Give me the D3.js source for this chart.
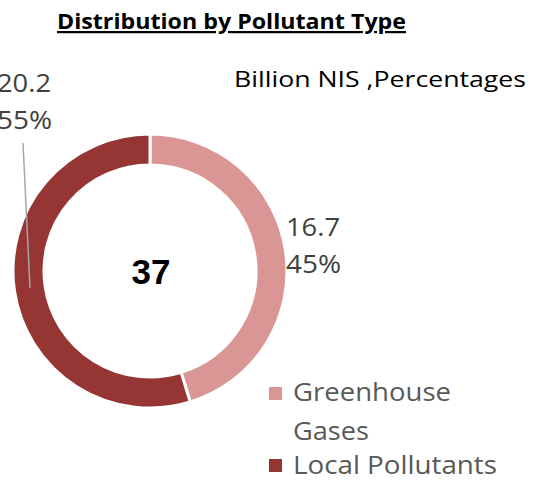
<!DOCTYPE html>
<html><head><meta charset="utf-8">
<script src="https://cdn.jsdelivr.net/npm/d3@7"></script>
<style>body{margin:0;background:#fff;}svg{display:block;}</style>
</head><body>
<svg id="c" width="548" height="483"></svg>
<script>
const categories = ["Greenhouse Gases", "Local Pollutants"];
const values = [16.7, 20.2];
const percents = ["45%", "55%"];
const colors = ["#DA9694", "#963634"];
const totalLabel = "37";
const title = "Distribution by Pollutant Type";
const subtitle = "Billion NIS ,Percentages";

const svg = d3.select("#c");
const cx = 150, cy = 271, rOuter = 137, rInner = 106;

svg.append("text").attr("x", 57).attr("y", 29)
  .attr("font-family", "'Open Sans', sans-serif").attr("font-weight", "bold")
  .attr("font-size", 22).attr("fill", "#000").attr("text-decoration", "underline")
  .attr("textLength", 349).attr("lengthAdjust", "spacingAndGlyphs")
  .text(title);

svg.append("text").attr("x", 234).attr("y", 87)
  .attr("font-family", "'Open Sans', sans-serif").attr("font-size", 21).attr("fill", "#000")
  .attr("textLength", 292).attr("lengthAdjust", "spacingAndGlyphs")
  .text(subtitle);

const pie = d3.pie().sort(null).value(d => d)(values);
const arc = d3.arc().innerRadius(rInner).outerRadius(rOuter);
const g = svg.append("g").attr("transform", `translate(${cx},${cy})`);
g.selectAll("path").data(pie).join("path")
  .attr("d", arc).attr("fill", (d, i) => colors[i])
  .attr("stroke", "#fff").attr("stroke-width", 3);

g.append("text").attr("x", 1).attr("y", 13).attr("text-anchor", "middle")
  .attr("font-family", "Liberation Sans, Arial, sans-serif").attr("font-weight", "bold")
  .attr("font-size", 35).attr("fill", "#000").text(totalLabel);

// leader line for local pollutants label
svg.append("line").attr("x1", 23).attr("y1", 143).attr("x2", 30).attr("y2", 288)
  .attr("stroke", "#A6A6A6").attr("stroke-width", 1.5);

const labelFont = "'Open Sans', sans-serif";
const lab = [
  {x: 286, y: 236, i: 0},
  {x: -3, y: 92, i: 1}
];
lab.forEach(l => {
  const t = svg.append("text").attr("font-family", labelFont).attr("font-size", 26).attr("fill", "#404040");
  t.append("tspan").attr("x", l.x).attr("y", l.y).attr("textLength", 54).attr("lengthAdjust", "spacingAndGlyphs").text(values[l.i].toFixed(1));
  t.append("tspan").attr("x", l.x).attr("y", l.y + 37).attr("textLength", 55).attr("lengthAdjust", "spacingAndGlyphs").text(percents[l.i]);
});

// legend
const leg = [
  {sy: 387, lines: ["Greenhouse", "Gases"], lens: [158, 76], ty: 401},
  {sy: 459, lines: ["Local Pollutants"], lens: [204], ty: 474}
];
leg.forEach((l, i) => {
  svg.append("rect").attr("x", 269).attr("y", l.sy).attr("width", 13).attr("height", 13).attr("fill", colors[i]);
  const t = svg.append("text").attr("font-family", labelFont).attr("font-size", 26).attr("fill", "#595959");
  l.lines.forEach((s, k) => t.append("tspan").attr("x", 293).attr("y", l.ty + k * 39)
    .attr("textLength", l.lens[k]).attr("lengthAdjust", "spacingAndGlyphs").text(s));
});
</script>
</body></html>
